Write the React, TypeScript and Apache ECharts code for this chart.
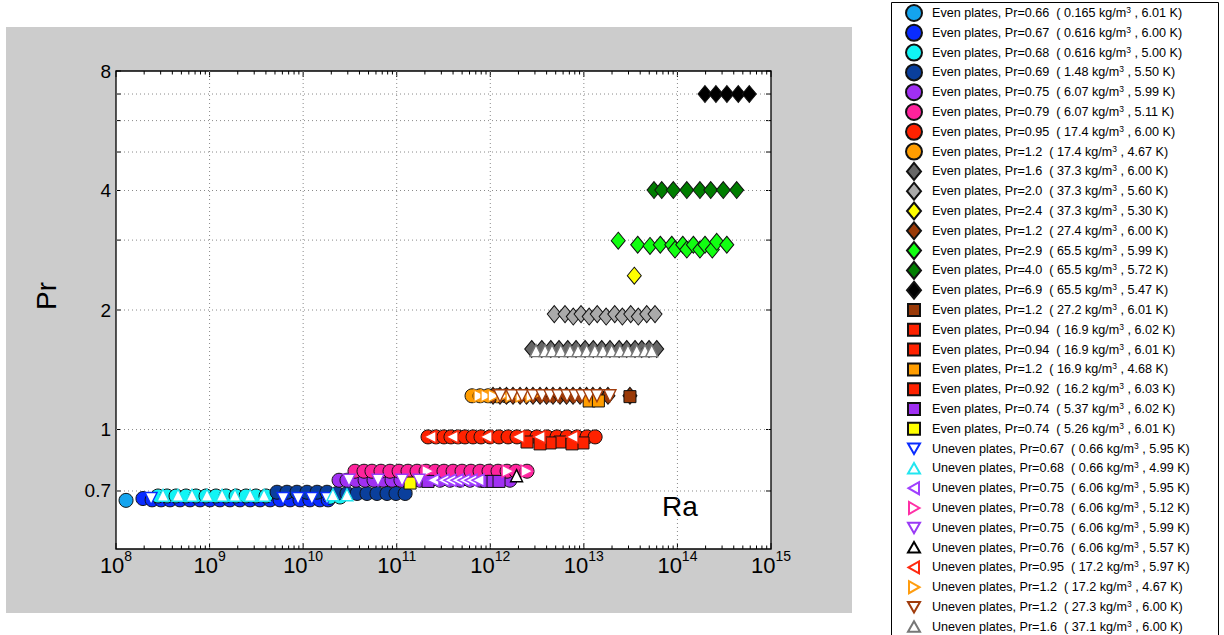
import React, { useEffect, useRef } from "react";
import * as echarts from "echarts";

const FONT = "'Liberation Sans', Arial, Helvetica, sans-serif";
type Pt = [number, number];

// ---------- axis ticks / labels ----------
const X_DECADES = [1e8, 1e9, 1e10, 1e11, 1e12, 1e13, 1e14, 1e15];
const X_MINOR_FACTORS = [2, 3, 4, 5, 6, 7, 8, 9];
const Y_GRID = [0.7, 1, 2, 3, 4, 5, 6, 7, 8];
const Y_LABELS = [0.7, 1, 2, 4, 8];
const X_MIN = 1e8, X_MAX = 1e15, Y_MIN = 0.5, Y_MAX = 8;

// ---------- data: [Ra, Pr] ----------
const E066: Pt[] = [[1.28e8, 0.663]];
const E067: Pt[] = [[1.94e8, 0.67], [2.43e8, 0.665], [3.03e8, 0.665], [3.78e8, 0.665], [4.83e8, 0.665], [6.18e8, 0.665], [7.91e8, 0.665], [1.01e9, 0.665], [1.29e9, 0.665], [1.65e9, 0.665], [2.11e9, 0.665], [2.71e9, 0.665], [3.46e9, 0.665], [4.43e9, 0.665], [5.66e9, 0.665], [7.24e9, 0.665], [9.26e9, 0.665], [1.18e10, 0.665], [1.51e10, 0.665], [1.85e10, 0.665]];
const E068: Pt[] = [[2.81e8, 0.68], [3.51e8, 0.68], [4.38e8, 0.68], [5.6e8, 0.68], [7.16e8, 0.68], [9.16e8, 0.68], [1.17e9, 0.68], [1.5e9, 0.68], [1.92e9, 0.68], [2.45e9, 0.68], [3.13e9, 0.68], [4.01e9, 0.68], [1.94e10, 0.675], [2.48e10, 0.676]];
const E069: Pt[] = [[5.26e9, 0.695], [6.72e9, 0.695], [8.59e9, 0.695], [1.1e10, 0.695], [1.41e10, 0.695], [1.8e10, 0.695], [2.3e10, 0.69], [2.94e10, 0.69], [3.77e10, 0.69], [4.81e10, 0.69], [6.15e10, 0.69], [7.87e10, 0.69], [9.82e10, 0.69], [1.23e11, 0.69]];
const E075: Pt[] = [[2.42e10, 0.745], [2.94e10, 0.745], [3.67e10, 0.745], [4.59e10, 0.745], [5.72e10, 0.745], [7.14e10, 0.745], [8.91e10, 0.745], [1.11e11, 0.745], [1.39e11, 0.745], [1.77e11, 0.745], [2.27e11, 0.745], [2.9e11, 0.745], [3.71e11, 0.745], [4.75e11, 0.745], [6.07e11, 0.745], [7.77e11, 0.745], [9.93e11, 0.745], [1.27e12, 0.745], [1.62e12, 0.745]];
const E079: Pt[] = [[3.58e10, 0.785], [4.47e10, 0.785], [5.44e10, 0.785], [6.79e10, 0.785], [8.48e10, 0.785], [1.06e11, 0.785], [1.32e11, 0.785], [1.65e11, 0.785], [2.06e11, 0.785], [2.57e11, 0.785], [3.2e11, 0.785], [4.0e11, 0.785], [4.99e11, 0.785], [6.22e11, 0.785], [7.77e11, 0.785], [9.69e11, 0.785], [1.21e12, 0.785], [1.51e12, 0.785], [1.88e12, 0.785], [2.47e12, 0.785]];
const E095: Pt[] = [[2.16e11, 0.958], [2.63e11, 0.958], [3.2e11, 0.958], [3.8e11, 0.958], [4.52e11, 0.958], [5.37e11, 0.958], [6.54e11, 0.958], [7.96e11, 0.958], [9.93e11, 0.958], [1.24e12, 0.958], [1.55e12, 0.958], [1.93e12, 0.958], [2.47e12, 0.958], [3.15e12, 0.958], [4.04e12, 0.958], [5.16e12, 0.958], [6.61e12, 0.958], [8.46e12, 0.958], [1.08e13, 0.958], [1.32e13, 0.958]];
const E12_ORANGE: Pt[] = [[6.38e11, 1.216], [7.77e11, 1.216], [9.46e11, 1.216], [1.18e12, 1.216], [1.47e12, 1.216]];
const E16: Pt[] = [[2.77e12, 1.595], [3.55e12, 1.595], [4.43e12, 1.595], [5.42e12, 1.595], [6.72e12, 1.595], [8.24e12, 1.595], [1.03e13, 1.595], [1.26e13, 1.595], [1.55e13, 1.595], [1.9e13, 1.595], [2.38e13, 1.595], [2.87e13, 1.595], [3.52e13, 1.595], [4.15e13, 1.595], [4.97e13, 1.595], [6.01e13, 1.595]];
const E20: Pt[] = [[4.83e12, 1.953], [6.29e12, 1.953], [7.71e12, 1.925], [9.33e12, 1.953], [1.14e13, 1.925], [1.39e13, 1.953], [1.73e13, 1.925], [2.14e13, 1.953], [2.58e13, 1.925], [3.17e13, 1.953], [3.82e13, 1.925], [4.7e13, 1.953], [5.76e13, 1.953]];
const E24: Pt[] = [[3.46e13, 2.44]];
const E12_BROWN: Pt[] = [[1.07e12, 1.216], [1.27e12, 1.216], [1.49e12, 1.216], [1.75e12, 1.216], [2.08e12, 1.216], [2.44e12, 1.216], [2.86e12, 1.216], [3.4e12, 1.216], [3.99e12, 1.216], [4.68e12, 1.216], [5.56e12, 1.216], [6.53e12, 1.216], [7.66e12, 1.216], [9.1e12, 1.216], [1.07e13, 1.216], [1.25e13, 1.216], [1.49e13, 1.216], [1.81e13, 1.216], [3.11e13, 1.216]];
const E29: Pt[] = [[2.33e13, 2.99], [3.76e13, 2.92], [5.09e13, 2.9], [6.56e13, 2.92], [8.69e13, 2.92], [9.42e13, 2.84], [1.14e14, 2.92], [1.26e14, 2.84], [1.48e14, 2.92], [1.74e14, 2.84], [1.97e14, 2.92], [2.36e14, 2.84], [2.63e14, 2.97], [3.37e14, 2.92]];
const E40: Pt[] = [[5.62e13, 4.01], [6.8e13, 4.01], [9.04e13, 4.01], [1.26e14, 4.01], [1.74e14, 4.01], [2.27e14, 4.01], [3.09e14, 4.01], [4.3e14, 4.01]];
const E69: Pt[] = [[1.97e14, 7.0], [2.58e14, 7.0], [3.38e14, 7.0], [4.47e14, 7.0], [5.86e14, 7.0]];
const S12_BROWN: Pt[] = [[3.11e13, 1.21]];
const S094_A: Pt[] = [[2.47e12, 0.93], [5.56e12, 0.93]];
const S094_B: Pt[] = [[4.35e12, 0.925], [9.79e12, 0.925]];
const S12_ORANGE: Pt[] = [[1.14e13, 1.18], [1.43e13, 1.18]];
const S092: Pt[] = [[3.4e12, 0.92], [7.47e12, 0.92]];
const S074_PURPLE: Pt[] = [[2.16e11, 0.74], [9.22e11, 0.74], [1.07e12, 0.74], [1.24e12, 0.74]];
const S074_YELLOW: Pt[] = [[1.39e11, 0.733]];
const U067: Pt[] = [[2.37e8, 0.67], [6.1e9, 0.67], [8.82e9, 0.67], [1.24e10, 0.67], [1.8e10, 0.67]];
const U068: Pt[] = [[3.18e8, 0.683], [4.6e8, 0.683], [6.49e8, 0.683], [9.39e8, 0.683], [1.36e9, 0.683], [1.87e9, 0.683], [2.71e9, 0.683], [3.82e9, 0.683], [2.08e10, 0.685], [2.94e10, 0.685]];
const U075_L: Pt[] = [[2.44e11, 0.745], [3.13e11, 0.745], [3.71e11, 0.745], [4.41e11, 0.745], [5.24e11, 0.745], [6.22e11, 0.745], [7.4e11, 0.745]];
const U078: Pt[] = [[2.16e11, 0.785], [1.55e12, 0.785], [2.47e12, 0.785]];
const U075_D: Pt[] = [[3.09e10, 0.745], [6.31e10, 0.745], [1.14e11, 0.745], [1.73e11, 0.745]];
const U076: Pt[] = [[1.91e12, 0.765]];
const U095: Pt[] = [[2.27e11, 0.958], [3.9e11, 0.958], [9.0e11, 0.958], [1.98e12, 0.958], [3.32e12, 0.958], [7.47e12, 0.958]];
const U12_ORANGE: Pt[] = [[7.77e11, 1.216], [9.22e11, 1.216], [1.1e12, 1.216], [1.37e12, 1.216], [1.71e12, 1.216], [2.18e12, 1.216], [2.79e12, 1.216]];
const U12_BROWN: Pt[] = [[1.27e12, 1.216], [1.71e12, 1.216], [2.18e12, 1.216], [2.86e12, 1.216], [3.57e12, 1.216], [4.35e12, 1.216], [5.29e12, 1.216], [6.61e12, 1.216], [8.04e12, 1.216], [9.55e12, 1.216], [1.14e13, 1.216], [1.38e13, 1.216], [1.9e13, 1.216]];
const U16: Pt[] = [[3.08e12, 1.58], [3.85e12, 1.58], [4.57e12, 1.58], [5.66e12, 1.58], [7.12e12, 1.58], [8.66e12, 1.58], [1.07e13, 1.58], [1.31e13, 1.58], [1.6e13, 1.58], [1.98e13, 1.58], [2.43e13, 1.58], [2.96e13, 1.58], [3.67e13, 1.58], [4.5e13, 1.58], [5.31e13, 1.58]];

type Shape = "circle" | "diamond" | "square" | "up" | "down" | "left" | "right";
type Def = { label: string; dens: string; temp: string; data: Pt[]; shape: Shape; color: string; hollow?: boolean };

const DEFS: Def[] = [
  { label: "Even plates, Pr=0.66", dens: "0.165", temp: "6.01", data: E066, shape: "circle", color: "#14a4ee" },
  { label: "Even plates, Pr=0.67", dens: "0.616", temp: "6.00", data: E067, shape: "circle", color: "#0a2cff" },
  { label: "Even plates, Pr=0.68", dens: "0.616", temp: "5.00", data: E068, shape: "circle", color: "#10f5f5" },
  { label: "Even plates, Pr=0.69", dens: "1.48", temp: "5.50", data: E069, shape: "circle", color: "#0a3f9c" },
  { label: "Even plates, Pr=0.75", dens: "6.07", temp: "5.99", data: E075, shape: "circle", color: "#a030f2" },
  { label: "Even plates, Pr=0.79", dens: "6.07", temp: "5.11", data: E079, shape: "circle", color: "#ff239c" },
  { label: "Even plates, Pr=0.95", dens: "17.4", temp: "6.00", data: E095, shape: "circle", color: "#ff2200" },
  { label: "Even plates, Pr=1.2", dens: "17.4", temp: "4.67", data: E12_ORANGE, shape: "circle", color: "#ff9d00" },
  { label: "Even plates, Pr=1.6", dens: "37.3", temp: "6.00", data: E16, shape: "diamond", color: "#666666" },
  { label: "Even plates, Pr=2.0", dens: "37.3", temp: "5.60", data: E20, shape: "diamond", color: "#aaaaaa" },
  { label: "Even plates, Pr=2.4", dens: "37.3", temp: "5.30", data: E24, shape: "diamond", color: "#ffff00" },
  { label: "Even plates, Pr=1.2", dens: "27.4", temp: "6.00", data: E12_BROWN, shape: "diamond", color: "#9a3a08" },
  { label: "Even plates, Pr=2.9", dens: "65.5", temp: "5.99", data: E29, shape: "diamond", color: "#11ff11" },
  { label: "Even plates, Pr=4.0", dens: "65.5", temp: "5.72", data: E40, shape: "diamond", color: "#007d00" },
  { label: "Even plates, Pr=6.9", dens: "65.5", temp: "5.47", data: E69, shape: "diamond", color: "#000000" },
  { label: "Even plates, Pr=1.2", dens: "27.2", temp: "6.01", data: S12_BROWN, shape: "square", color: "#9a3a08" },
  { label: "Even plates, Pr=0.94", dens: "16.9", temp: "6.02", data: S094_A, shape: "square", color: "#ff2200" },
  { label: "Even plates, Pr=0.94", dens: "16.9", temp: "6.01", data: S094_B, shape: "square", color: "#ff2200" },
  { label: "Even plates, Pr=1.2", dens: "16.9", temp: "4.68", data: S12_ORANGE, shape: "square", color: "#ff9d00" },
  { label: "Even plates, Pr=0.92", dens: "16.2", temp: "6.03", data: S092, shape: "square", color: "#ff2200" },
  { label: "Even plates, Pr=0.74", dens: "5.37", temp: "6.02", data: S074_PURPLE, shape: "square", color: "#a030f2" },
  { label: "Even plates, Pr=0.74", dens: "5.26", temp: "6.01", data: S074_YELLOW, shape: "square", color: "#ffff00" },
  { label: "Uneven plates, Pr=0.67", dens: "0.66", temp: "5.95", data: U067, shape: "down", color: "#0a2cff", hollow: true },
  { label: "Uneven plates, Pr=0.68", dens: "0.66", temp: "4.99", data: U068, shape: "up", color: "#22e6f0", hollow: true },
  { label: "Uneven plates, Pr=0.75", dens: "6.06", temp: "5.95", data: U075_L, shape: "left", color: "#a040ff", hollow: true },
  { label: "Uneven plates, Pr=0.78", dens: "6.06", temp: "5.12", data: U078, shape: "right", color: "#ff2fa6", hollow: true },
  { label: "Uneven plates, Pr=0.75", dens: "6.06", temp: "5.99", data: U075_D, shape: "down", color: "#9a3af5", hollow: true },
  { label: "Uneven plates, Pr=0.76", dens: "6.06", temp: "5.57", data: U076, shape: "up", color: "#000000", hollow: true },
  { label: "Uneven plates, Pr=0.95", dens: "17.2", temp: "5.97", data: U095, shape: "left", color: "#ff2a10", hollow: true },
  { label: "Uneven plates, Pr=1.2", dens: "17.2", temp: "4.67", data: U12_ORANGE, shape: "right", color: "#ff9d10", hollow: true },
  { label: "Uneven plates, Pr=1.2", dens: "27.3", temp: "6.00", data: U12_BROWN, shape: "down", color: "#a03c0c", hollow: true },
  { label: "Uneven plates, Pr=1.6", dens: "37.1", temp: "6.00", data: U16, shape: "up", color: "#777777", hollow: true },
];

// marker symbol per shape on the plot
const PLOT_SYMBOL: Record<Shape, { symbol: string; size: number | number[]; rotate: number }> = {
  circle: { symbol: "circle", size: 14, rotate: 0 },
  diamond: { symbol: "diamond", size: [14, 17], rotate: 0 },
  square: { symbol: "rect", size: 12, rotate: 0 },
  up: { symbol: "triangle", size: 12, rotate: 0 },
  down: { symbol: "triangle", size: 12, rotate: 180 },
  left: { symbol: "triangle", size: 12, rotate: 90 },
  right: { symbol: "triangle", size: 12, rotate: -90 },
};

// legend icons in a 26x18 box (corner stubs pin the bounding box so nothing is rescaled)
const FRAME = "M0,0L0.001,0M26,18L25.999,18";
const LEGEND_ICON: Record<Shape, string> = {
  circle: "path://" + FRAME + "M21,9A8,8,0,1,1,5,9A8,8,0,1,1,21,9Z",
  diamond: "path://" + FRAME + "M13,0.5L20,9L13,17.5L6,9Z",
  square: "path://" + FRAME + "M7,3L19,3L19,15L7,15Z",
  up: "path://" + FRAME + "M13,3.5L19,14L7,14Z",
  down: "path://" + FRAME + "M13,14.5L19,4L7,4Z",
  left: "path://" + FRAME + "M7.5,9L18,3L18,15Z",
  right: "path://" + FRAME + "M18.5,9L8,3L8,15Z",
};

const nameOf = (d: Def) => `${d.label}  ( ${d.dens} kg/m3 , ${d.temp} K)`;

export default function App() {
  const ref = useRef<HTMLDivElement>(null);
  useEffect(() => {
    document.body.style.margin = "0";
    if (!ref.current) return;
    const chart = echarts.init(ref.current, undefined, { renderer: "svg" });

    const gridDotted = { stroke: "#8a8a8a", lineWidth: 1, lineDash: [1, 3] };
    const tickStyle = { stroke: "#000", lineWidth: 1 };

    const minorX: number[] = [];
    X_DECADES.slice(0, -1).forEach((d) => X_MINOR_FACTORS.forEach((f) => minorX.push(d * f)));

    const customBase = {
      type: "custom",
      coordinateSystem: "cartesian2d",
      silent: true,
      clip: false,
      z: 1,
    };

    const scatterSeries = DEFS.map((d) => {
      const ps = PLOT_SYMBOL[d.shape];
      return {
        type: "scatter",
        name: nameOf(d),
        data: d.data,
        symbol: ps.symbol,
        symbolSize: ps.size,
        symbolRotate: ps.rotate,
        itemStyle: d.hollow
          ? { color: "#ffffff", borderColor: d.color, borderWidth: 1.4, opacity: 1 }
          : { color: d.color, borderColor: "#111", borderWidth: 1, opacity: 1 },
        emphasis: { disabled: true },
        silent: true,
        z: 3,
      };
    });

    const option: any = {
      animation: false,
      backgroundColor: "#ffffff",
      textStyle: { fontFamily: FONT },
      graphic: [
        { type: "rect", z: -100, shape: { x: 6, y: 27, width: 846, height: 586 }, style: { fill: "#cccccc" } },
        { type: "rect", z: -100, shape: { x: 891.5, y: 2.5, width: 327, height: 680 }, style: { fill: "#ffffff", stroke: "#000", lineWidth: 1 } },
        { type: "text", x: 46, y: 296, rotation: Math.PI / 2, style: { text: "Pr", fontSize: 28, fontFamily: FONT, fill: "#000", align: "center", verticalAlign: "middle" } },
        { type: "text", x: 680, y: 506, style: { text: "Ra", fontSize: 28, fontFamily: FONT, fill: "#000", align: "center", verticalAlign: "middle" } },
      ],
      legend: {
        orient: "vertical",
        left: 900,
        top: 3,
        height: 700,
        padding: 0,
        itemWidth: 26,
        itemHeight: 18,
        itemGap: -0.2,
        symbolRotate: 0,
        selectedMode: false,
        data: DEFS.map((d) => ({ name: nameOf(d), icon: LEGEND_ICON[d.shape] })),
        formatter: (n: string) => n.replace("kg/m3", "kg/m{s|3}"),
        textStyle: {
          fontFamily: FONT, fontSize: 12.6, color: "#000", lineHeight: 15,
          rich: { s: { fontFamily: FONT, fontSize: 8.5, lineHeight: 8, verticalAlign: "top", color: "#000" } },
        },
      },
      grid: {
        left: 116, top: 71, width: 655, height: 478,
        show: true, backgroundColor: "#ffffff", borderColor: "#000", borderWidth: 1.3,
      },
      xAxis: {
        type: "log", logBase: 10, min: X_MIN, max: X_MAX, interval: 1, splitNumber: 7,
        axisLine: { show: false }, axisTick: { show: false }, splitLine: { show: false },
        axisLabel: {
          margin: 0,
          formatter: (v: number) => `{b|10}{s|${Math.round(Math.log10(v))}}`,
          rich: {
            b: { fontFamily: FONT, fontSize: 22, lineHeight: 26, padding: [6, 0, 0, 0], color: "#000" },
            s: { fontFamily: FONT, fontSize: 14, lineHeight: 14, verticalAlign: "top", color: "#000" },
          },
        },
      },
      yAxis: {
        type: "log", logBase: 10, min: Y_MIN, max: Y_MAX,
        axisLine: { show: false }, axisTick: { show: false }, splitLine: { show: false },
        axisLabel: { show: false },
      },
      series: [
        {
          ...customBase,
          name: "xgrid",
          data: X_DECADES.map((v) => [v, 1]),
          renderItem: (params: any, api: any) => {
            const cs = params.coordSys;
            const px = api.coord([api.value(0), 1])[0];
            const top = cs.y, bot = cs.y + cs.height;
            const ch: any[] = [
              { type: "line", shape: { x1: px, y1: bot, x2: px, y2: bot - 6 }, style: tickStyle },
              { type: "line", shape: { x1: px, y1: top, x2: px, y2: top + 6 }, style: tickStyle },
            ];
            if (px > cs.x + 1 && px < cs.x + cs.width - 1)
              ch.push({ type: "line", shape: { x1: px, y1: top, x2: px, y2: bot }, style: gridDotted });
            return { type: "group", children: ch };
          },
        },
        {
          ...customBase,
          name: "xminor",
          data: minorX.map((v) => [v, 1]),
          renderItem: (params: any, api: any) => {
            const cs = params.coordSys;
            const px = api.coord([api.value(0), 1])[0];
            const top = cs.y, bot = cs.y + cs.height;
            return {
              type: "group",
              children: [
                { type: "line", shape: { x1: px, y1: bot, x2: px, y2: bot - 3.5 }, style: tickStyle },
                { type: "line", shape: { x1: px, y1: top, x2: px, y2: top + 3.5 }, style: tickStyle },
              ],
            };
          },
        },
        {
          ...customBase,
          name: "ygrid",
          data: Y_GRID.map((v) => [X_MIN, v]),
          renderItem: (params: any, api: any) => {
            const cs = params.coordSys;
            const py = api.coord([X_MIN, api.value(1)])[1];
            const l = cs.x, r = cs.x + cs.width;
            const ch: any[] = [
              { type: "line", shape: { x1: l, y1: py, x2: l + 5, y2: py }, style: tickStyle },
              { type: "line", shape: { x1: r, y1: py, x2: r - 5, y2: py }, style: tickStyle },
            ];
            if (py > cs.y + 1 && py < cs.y + cs.height - 1)
              ch.push({ type: "line", shape: { x1: l, y1: py, x2: r, y2: py }, style: gridDotted });
            return { type: "group", children: ch };
          },
        },
        {
          ...customBase,
          name: "ylabels",
          data: Y_LABELS.map((v) => [X_MIN, v]),
          renderItem: (params: any, api: any) => {
            const cs = params.coordSys;
            const v = api.value(1);
            const py = api.coord([X_MIN, v])[1];
            return {
              type: "text",
              x: cs.x - 5,
              y: py,
              style: { text: String(v), fontFamily: FONT, fontSize: 19, fill: "#000", align: "right", verticalAlign: "middle" },
            };
          },
        },
        ...scatterSeries,
      ],
    };

    chart.setOption(option);
    return () => chart.dispose();
  }, []);

  return <div ref={ref} style={{ width: 1224, height: 635 }} />;
}
